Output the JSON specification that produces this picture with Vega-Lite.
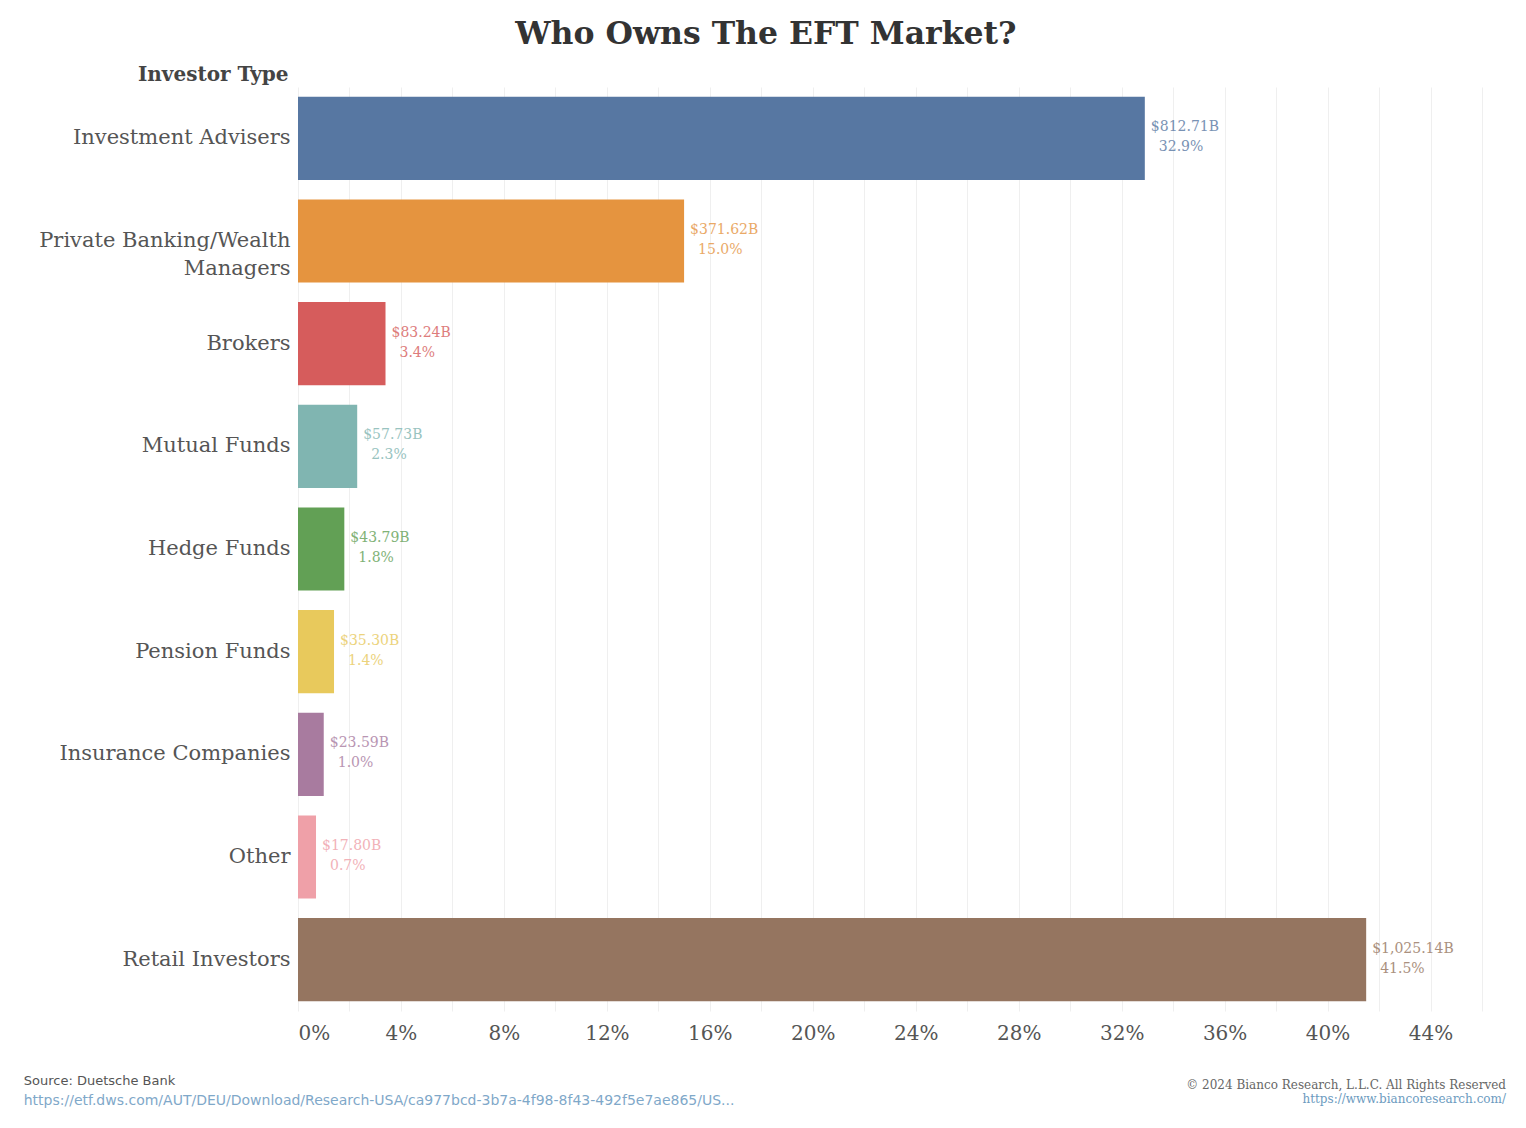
{
  "$schema": "https://vega.github.io/schema/vega-lite/v6.json",
  "background": "white",
  "padding": {"left": 23, "top": 18, "right": 5, "bottom": 5},
  "config": {"view": {"stroke": null}, "font": "DejaVu Serif"},
  "title": {"text": "Who Owns The EFT Market?", "font": "DejaVu Serif", "fontSize": 31.5, "fontWeight": "bold", "color": "#333333", "anchor": "middle", "offset": 14, "dx": 1},
  "vconcat": [
    {
      "title": {"text": "© 2024 Bianco Research, L.L.C. All Rights Reserved", "subtitle": "https://www.biancoresearch.com/", "orient": "bottom", "anchor": "end", "offset": -28, "dx": 24, "font": "DejaVu Serif", "fontSize": 12, "fontWeight": "normal", "color": "#666666", "subtitleFont": "DejaVu Serif", "subtitleFontSize": 12, "subtitleColor": "#6c9bc0", "subtitlePadding": 2},
      "vconcat": [
        {
          "title": {"text": "Source: Duetsche Bank", "subtitle": "https://etf.dws.com/AUT/DEU/Download/Research-USA/ca977bcd-3b7a-4f98-8f43-492f5e7ae865/US...", "orient": "bottom", "anchor": "start", "offset": 32, "dx": -15, "font": "DejaVu Sans", "fontSize": 13, "fontWeight": "normal", "color": "#555555", "subtitleFont": "DejaVu Sans", "subtitleFontSize": 14, "subtitleColor": "#7fa8c9", "subtitlePadding": 6},
          "width": 1184,
          "height": 924,
          "data": {
            "values": [
              {"type": "Investment Advisers", "value": 812.71, "amount": "$812.71B", "pct": 0.329},
              {"type": "Private Banking/Wealth Managers", "value": 371.62, "amount": "$371.62B", "pct": 0.150},
              {"type": "Brokers", "value": 83.24, "amount": "$83.24B", "pct": 0.034},
              {"type": "Mutual Funds", "value": 57.73, "amount": "$57.73B", "pct": 0.023},
              {"type": "Hedge Funds", "value": 43.79, "amount": "$43.79B", "pct": 0.018},
              {"type": "Pension Funds", "value": 35.30, "amount": "$35.30B", "pct": 0.014},
              {"type": "Insurance Companies", "value": 23.59, "amount": "$23.59B", "pct": 0.010},
              {"type": "Other", "value": 17.80, "amount": "$17.80B", "pct": 0.007},
              {"type": "Retail Investors", "value": 1025.14, "amount": "$1,025.14B", "pct": 0.415}
            ]
          },
          "encoding": {
            "y": {
              "field": "type", "type": "nominal", "sort": null,
              "scale": {"paddingInner": 0.19, "paddingOuter": 0.095},
              "axis": {
                "title": "Investor Type", "titleFont": "DejaVu Serif", "titleFontSize": 20, "titleFontWeight": "bold", "titleColor": "#444444",
                "titleAngle": 0, "titleAlign": "right", "titleBaseline": "alphabetic", "titleX": -10, "titleY": -7,
                "labelFont": "DejaVu Serif", "labelFontSize": 21, "labelColor": "#555555", "labelPadding": 8, "labelLineHeight": 28,
                "labelExpr": "datum.label == 'Private Banking/Wealth Managers' ? ['Private Banking/Wealth', 'Managers'] : datum.label",
                "ticks": false, "domain": false, "grid": false, "labelLimit": 400
              }
            },
            "x": {
              "field": "pct", "type": "quantitative",
              "scale": {"domain": [0, 0.46], "nice": false},
              "axis": {
                "title": null, "values": [0, 0.02, 0.04, 0.06, 0.08, 0.10, 0.12, 0.14, 0.16, 0.18, 0.20, 0.22, 0.24, 0.26, 0.28, 0.30, 0.32, 0.34, 0.36, 0.38, 0.40, 0.42, 0.44, 0.46],
                "format": ".0%", "labelExpr": "round(datum.value * 100) % 4 == 0 && datum.value < 0.45 ? datum.label : ''",
                "grid": true, "gridColor": "#efefef", "ticks": false, "domain": false,
                "labelFont": "DejaVu Serif", "labelFontSize": 20, "labelColor": "#555555", "labelPadding": 12, "labelFlush": true, "labelOverlap": false
              }
            },
            "color": {
              "field": "type", "type": "nominal", "legend": null,
              "scale": {
                "domain": ["Investment Advisers", "Private Banking/Wealth Managers", "Brokers", "Mutual Funds", "Hedge Funds", "Pension Funds", "Insurance Companies", "Other", "Retail Investors"],
                "range": ["#5777a2", "#e5943f", "#d65c5c", "#80b5b1", "#62a055", "#e8c95c", "#a87b9f", "#efa0a8", "#957560"]
              }
            }
          },
          "layer": [
            {"mark": {"type": "bar"}},
            {"mark": {"type": "text", "align": "left", "baseline": "middle", "dx": 6, "dy": -11, "fontSize": 14, "font": "DejaVu Serif", "opacity": 0.8}, "encoding": {"text": {"field": "amount"}}},
            {"mark": {"type": "text", "align": "left", "baseline": "middle", "dx": 14, "dy": 9, "fontSize": 14, "font": "DejaVu Serif", "opacity": 0.8}, "encoding": {"text": {"field": "pct", "format": ".1%"}}}
          ]
        }
      ]
    }
  ]
}
